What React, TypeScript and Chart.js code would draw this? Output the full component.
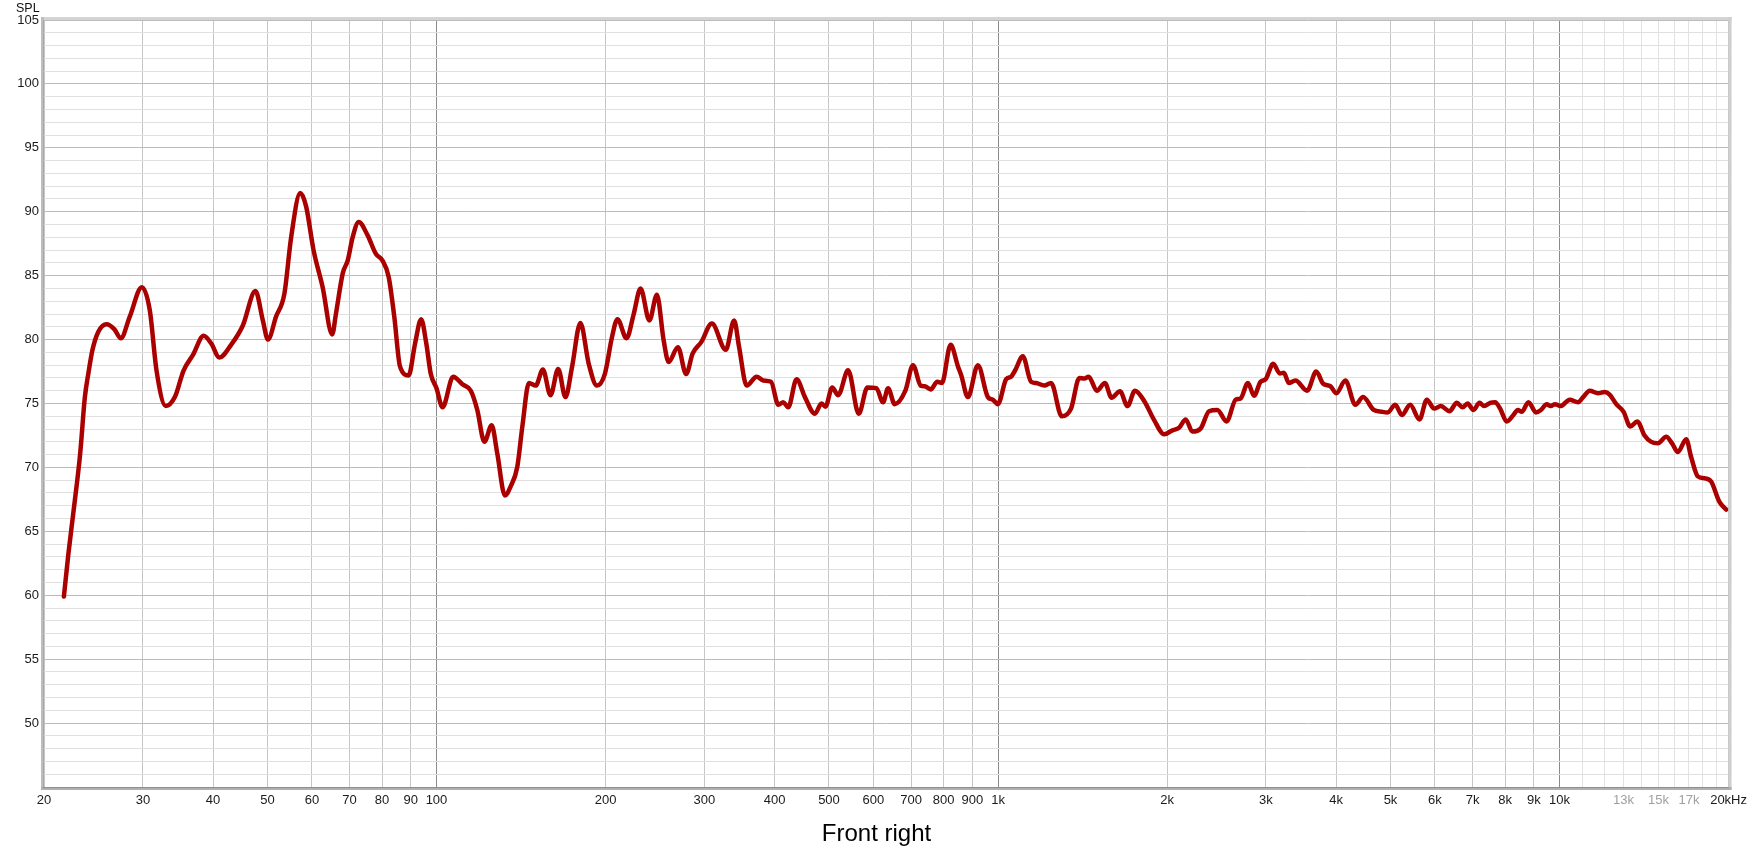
import React, { useEffect, useRef } from "react";
import { Chart, registerables } from "chart.js";

Chart.register(...registerables);

const FREQS: number[] = [
  21.7, 22.1, 22.55, 23.2, 23.65, 24.0, 24.4, 24.98, 25.85, 26.7, 27.4, 28.43, 29.87, 30.86, 31.72, 32.95, 34.2, 35.46,
  36.84, 38.49, 39.7, 41.06, 43.1, 45.2, 47.6, 49.06, 50.1, 51.8, 53.6, 55.1, 57.2, 58.6, 60.4, 62.7, 65.2,
  66.2, 68.1, 69.5, 70.9, 72.7, 75.4, 78.0, 80.1, 82.2, 84.1, 86.1, 89.2, 91.6, 93.9, 95.9, 97.7, 100,
  102.5, 107.1, 111.2, 115.1, 118.2, 121.7, 125.4, 128.3, 132.4, 135.5, 139.3, 142.2, 146.1, 150.2, 154.7,
  159.6, 164.7, 169.7, 174.4, 180.4, 186.7, 193.1, 199.4, 205.4, 210, 218,
  224.5, 230.9, 239.4, 246.9, 253.8, 259.1, 269.1, 278.4, 285.8, 296.1, 309.3, 327.5, 338.9, 345.9, 356.8,
  371.7, 381.9, 394.2, 406.2, 414.5, 423.1, 437.8, 453.0, 471.9, 484.9, 492.9, 506.6, 519.2, 540.8, 565.0,
  585.3, 607.3, 624.2, 637.1, 654.6, 683.9, 705.7,
  728.3, 740.3, 758.7, 779.6, 794.6, 823.3, 848.5, 860.1, 883.8, 920.8, 959.3, 978.9, 999.4, 1034, 1055,
  1073, 1107, 1145, 1169, 1209, 1243, 1299, 1349, 1396, 1425, 1450, 1500, 1550, 1593, 1649, 1701, 1753,
  1821, 1897, 1976, 2045, 2101, 2159, 2219, 2296,
  2376, 2458, 2553, 2650, 2704, 2787, 2857, 2935, 2996, 3091, 3176, 3229, 3295, 3386, 3553, 3687, 3794,
  3908, 4005, 4155, 4329, 4468, 4667, 4828, 4942, 5098, 5239, 5420, 5632, 5803, 5980, 6146, 6368, 6563,
  6718, 6857, 7027, 7203, 7340, 7524,
  7679, 7838, 8054, 8277, 8426, 8565, 8802, 9080, 9268, 9486, 9643, 9815, 10037, 10427, 10790, 11014,
  11317, 11709, 12033, 12281, 12621, 13005, 13366, 13754, 14171, 14565, 14970, 15490, 15854, 16246,
  16809, 17157, 17630, 18118, 18619, 19265, 19807,
];

const SPL: number[] = [
  59.9, 63.2, 66.4, 71.1, 75.5, 77.4, 79.2, 80.6, 81.2, 80.8, 80.1, 81.8, 84.1, 82.3, 77.6, 74.8, 75.5, 77.6,
  78.8, 80.3, 79.7, 78.6, 79.6, 81.1, 83.8, 81.5, 80.0, 81.8, 83.6, 88.0, 91.46, 90.4, 87.0, 84.1, 80.4,
  82.0, 85.2, 86.2, 88.0, 89.2, 88.15, 86.7, 86.2, 84.9, 81.8, 77.9, 77.2, 79.7, 81.6, 79.7, 77.3, 76.2,
  74.7, 77.1, 76.5, 76.0, 74.5, 72.0, 73.3, 71.1, 67.8, 68.5, 70.05, 73.2, 76.6, 76.4, 77.65,
  75.65, 77.7, 75.5, 77.9, 81.3, 78.1, 76.4, 77.3, 80.2, 81.6, 80.1,
  82.0, 84.0, 81.5, 83.5, 79.95, 78.25, 79.4, 77.3, 78.9, 79.8, 81.25, 79.2, 81.5, 79.4, 76.4,
  77.1, 76.8, 76.7, 74.9, 75.1, 74.7, 76.9, 75.5, 74.2, 75.0, 74.75, 76.25, 75.65, 77.6, 74.2,
  76.25, 76.2, 75.1, 76.2, 74.95, 76.0, 78.0,
  76.4, 76.35, 76.1, 76.7, 76.6, 79.6, 77.9, 77.2, 75.5, 78.0, 75.5, 75.3, 74.95, 76.9, 77.1,
  77.6, 78.7, 76.7, 76.6, 76.4, 76.6, 74.0, 74.6, 77.0, 76.95, 77.1, 76.0, 76.6, 75.45, 75.95, 74.8, 76.0,
  75.2, 73.7, 72.6, 72.9, 73.1, 73.75, 72.8, 73.05,
  74.4, 74.5, 73.6, 75.3, 75.4, 76.6, 75.6, 76.7, 76.9, 78.1, 77.35, 77.4, 76.6, 76.8, 76.0, 77.5, 76.55,
  76.35, 75.8, 76.8, 74.9, 75.5, 74.5, 74.35, 74.3, 74.9, 74.1, 74.9, 73.75, 75.3, 74.6, 74.8, 74.4, 75.05,
  74.7, 75.0, 74.5, 75.05, 74.8, 75.05,
  75.1, 74.6, 73.6, 74.1, 74.5, 74.35, 75.1, 74.3, 74.5, 74.95, 74.8, 74.95, 74.8, 75.3, 75.1, 75.5,
  76.0, 75.8, 75.9, 75.7, 74.95, 74.35, 73.2, 73.6, 72.5, 72.0, 71.9, 72.4, 71.9, 71.2,
  72.2, 70.8, 69.3, 69.15, 68.9, 67.3, 66.7,
];

const X_TICKS: number[] = [
  20, 30, 40, 50, 60, 70, 80, 90, 100, 200, 300, 400, 500, 600, 700, 800, 900, 1000,
  2000, 3000, 4000, 5000, 6000, 7000, 8000, 9000, 10000, 11000, 12000, 13000, 14000, 15000,
  16000, 17000, 18000, 19000, 20000,
];
const X_LABELS: string[] = [
  "20", "30", "40", "50", "60", "70", "80", "90", "100", "200", "300", "400", "500", "600", "700", "800", "900", "1k",
  "2k", "3k", "4k", "5k", "6k", "7k", "8k", "9k", "10k", "", "", "13k", "", "15k",
  "", "17k", "", "", "20kHz",
];
const X_GREY_LABELS: number[] = [13000, 15000, 17000];
const DECADES: number[] = [100, 1000, 10000];

const Y_MIN = 45;
const Y_MAX = 105;
const Y_LABELS: number[] = [50, 55, 60, 65, 70, 75, 80, 85, 90, 95, 100, 105];

const TITLE = "Front right";
const Y_TITLE = "SPL";

const framePlugin = {
  id: "rewFrame",
  afterDraw(chart: any) {
    const { ctx, chartArea } = chart;
    const { left, right, top, bottom } = chartArea;
    ctx.save();
    ctx.fillStyle = "#d4d4d4";
    ctx.fillRect(left - 3, top - 3, right - left + 6, 3);
    ctx.fillStyle = "#cfcfcf";
    ctx.fillRect(right, top - 3, 3, bottom - top + 6);
    ctx.fillStyle = "#bdbdbd";
    ctx.fillRect(left - 3, top - 3, 3, bottom - top + 6);
    ctx.fillStyle = "#a8a8a8";
    ctx.fillRect(left - 1, top, 1, bottom - top);
    ctx.fillStyle = "#b0b0b0";
    ctx.fillRect(left - 3, bottom, right - left + 6, 3);
    ctx.fillStyle = "#8e8e8e";
    ctx.fillRect(left - 1, bottom, right - left + 1, 1);
    ctx.fillStyle = "#111";
    ctx.font = '12.5px "Liberation Sans", Arial, sans-serif';
    ctx.textAlign = "left";
    ctx.textBaseline = "alphabetic";
    ctx.fillText(Y_TITLE, 16, 12);
    ctx.font = '24px "Liberation Sans", Arial, sans-serif';
    ctx.textAlign = "center";
    ctx.fillStyle = "#000";
    ctx.fillText(TITLE, chart.width / 2, 841);
    ctx.restore();
  },
};

export default function App() {
  const ref = useRef<HTMLCanvasElement | null>(null);

  useEffect(() => {
    if (!ref.current) return;
    const points = FREQS.map((f, i) => ({ x: f, y: SPL[i] }));
    const chart = new Chart(ref.current, {
      type: "line",
      data: {
        datasets: [
          {
            data: points,
            borderColor: "#aa0000",
            borderWidth: 4.5,
            pointRadius: 0,
            cubicInterpolationMode: "monotone",
            borderJoinStyle: "round",
            borderCapStyle: "round",
            fill: false,
          },
        ],
      },
      options: {
        responsive: false,
        animation: false,
        events: [],
        layout: { padding: { top: 20, right: 22, left: 0, bottom: 0 } },
        plugins: {
          legend: { display: false },
          tooltip: { enabled: false },
          title: { display: false },
        },
        scales: {
          x: {
            type: "logarithmic",
            min: 20,
            max: 20000,
            afterBuildTicks: (scale: any) => {
              scale.ticks = X_TICKS.map((v) => ({ value: v }));
            },
            afterFit: (scale: any) => {
              scale.height = 66;
            },
            border: { display: false },
            grid: {
              drawTicks: false,
              lineWidth: 1,
              color: (ctx: any) => {
                const v = ctx.tick ? ctx.tick.value : 0;
                if (DECADES.includes(v)) return "#8a8a8a";
                if (v > 10000 && v < 20000) return "#e2e2e2";
                return "#c6c6c6";
              },
            },
            ticks: {
              autoSkip: false,
              maxRotation: 0,
              minRotation: 0,
              padding: 6,
              font: { family: '"Liberation Sans Narrow", "Arial Narrow", "Liberation Sans", Arial, sans-serif', size: 13 },
              color: (ctx: any) => {
                const v = ctx.tick ? ctx.tick.value : 0;
                return X_GREY_LABELS.includes(v) ? "#a0a0a0" : "#1a1a1a";
              },
              callback: (value: any) => {
                const i = X_TICKS.indexOf(Number(value));
                return i >= 0 ? X_LABELS[i] : "";
              },
            },
          },
          y: {
            type: "linear",
            min: Y_MIN,
            max: Y_MAX,
            afterBuildTicks: (scale: any) => {
              const t: { value: number }[] = [];
              for (let v = Y_MIN; v <= Y_MAX; v += 1) t.push({ value: v });
              scale.ticks = t;
            },
            afterFit: (scale: any) => {
              scale.width = 44;
            },
            border: { display: false },
            grid: {
              drawTicks: false,
              lineWidth: 1,
              color: (ctx: any) => {
                const v = ctx.tick ? ctx.tick.value : 0;
                return v % 5 === 0 ? "#bcbcbc" : "#e0e0e0";
              },
            },
            ticks: {
              autoSkip: false,
              padding: 5,
              font: { family: '"Liberation Sans", Arial, sans-serif', size: 13 },
              color: "#1a1a1a",
              callback: (value: any) => (Y_LABELS.includes(Number(value)) ? String(value) : ""),
            },
          },
        },
      },
      plugins: [framePlugin],
    });
    return () => chart.destroy();
  }, []);

  return (
    <div style={{ position: "fixed", left: 0, top: 0, width: 1753, height: 853, background: "#fff" }}>
      <canvas ref={ref} width={1753} height={853} style={{ display: "block", width: 1753, height: 853 }} />
    </div>
  );
}
